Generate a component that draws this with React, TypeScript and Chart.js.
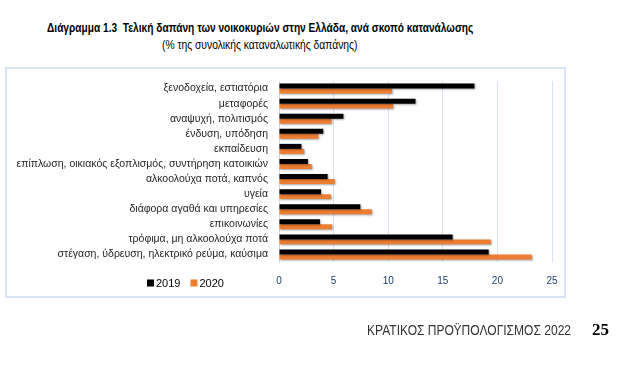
import React, { useEffect, useLayoutEffect, useRef } from "react";
import { Chart, registerables } from "chart.js";

Chart.register(...registerables);

const categories = [
  "ξενοδοχεία, εστιατόρια",
  "μεταφορές",
  "αναψυχή, πολιτισμός",
  "ένδυση, υπόδηση",
  "εκπαίδευση",
  "επίπλωση, οικιακός εξοπλισμός, συντήρηση κατοικιών",
  "αλκοολούχα ποτά, καπνός",
  "υγεία",
  "διάφορα αγαθά και υπηρεσίες",
  "επικοινωνίες",
  "τρόφιμα, μη αλκοολούχα ποτά",
  "στέγαση, ύδρευση, ηλεκτρικό ρεύμα, καύσιμα",
];

const values2019 = [17.9, 12.5, 5.9, 4.05, 2.05, 2.65, 4.45, 3.85, 7.45, 3.75, 15.9, 19.2];
const values2020 = [10.35, 10.45, 4.8, 3.6, 2.3, 3.0, 5.1, 4.75, 8.5, 4.85, 19.4, 23.15];

const seriesLabels = ["2019", "2020"];
const seriesColors = ["#000000", "#ED7D31"];

const xMin = 0;
const xMax = 25;
const xStep = 5;

const titleText = "Διάγραμμα 1.3  Τελική δαπάνη των νοικοκυριών στην Ελλάδα, ανά σκοπό κατανάλωσης";
const subtitleText = "(% της συνολικής καταναλωτικής δαπάνης)";
const footerText = "ΚΡΑΤΙΚΟΣ ΠΡΟΫΠΟΛΟΓΙΣΜΟΣ 2022";
const pageNumber = "25";

const shadowPlugin = {
  id: "barShadow",
  beforeDatasetsDraw(chart: any) {
    const ctx = chart.ctx;
    ctx.save();
    ctx.shadowColor = "rgba(0,0,0,0.35)";
    ctx.shadowBlur = 2;
    ctx.shadowOffsetX = 1;
    ctx.shadowOffsetY = 1;
  },
  afterDatasetsDraw(chart: any) {
    chart.ctx.restore();
  },
};

const legendPlugin = {
  id: "customLegend",
  afterDraw(chart: any) {
    const ctx = chart.ctx;
    ctx.save();
    ctx.font = "11px 'Liberation Sans', Arial, sans-serif";
    ctx.textBaseline = "middle";
    ctx.textAlign = "left";
    let x = 147;
    const y = 283;
    chart.data.datasets.forEach((ds: any, i: number) => {
      ctx.fillStyle = seriesColors[i];
      ctx.fillRect(x, y - 3.5, 7, 7);
      ctx.fillStyle = "#000";
      ctx.fillText(ds.label, x + 9, y + 0.5);
      x += 9 + ctx.measureText(ds.label).width + 10;
    });
    ctx.restore();
  },
};

function FitText(props: {
  text: string;
  left: number;
  top: number;
  width: number;
  style: React.CSSProperties;
}) {
  const ref = useRef<HTMLSpanElement | null>(null);
  useLayoutEffect(() => {
    const el = ref.current;
    if (!el) return;
    el.style.transform = "none";
    const w = el.offsetWidth;
    if (w > 0) el.style.transform = `scaleX(${props.width / w})`;
  }, [props.text, props.width]);
  return (
    <span
      ref={ref}
      style={{
        position: "absolute",
        left: props.left,
        top: props.top,
        display: "inline-block",
        whiteSpace: "pre",
        transformOrigin: "0 0",
        ...props.style,
      }}
    >
      {props.text}
    </span>
  );
}

function App() {
  const canvasRef = useRef<HTMLCanvasElement | null>(null);

  useEffect(() => {
    document.body.style.margin = "0";
    const canvas = canvasRef.current;
    if (!canvas) return;
    const chart = new Chart(canvas, {
      type: "bar",
      data: {
        labels: categories,
        datasets: [
          {
            label: seriesLabels[0],
            data: values2019,
            backgroundColor: seriesColors[0],
            categoryPercentage: 0.66,
            barPercentage: 1,
          },
          {
            label: seriesLabels[1],
            data: values2020,
            backgroundColor: seriesColors[1],
            categoryPercentage: 0.66,
            barPercentage: 1,
          },
        ],
      },
      options: {
        indexAxis: "y",
        animation: false,
        responsive: false,
        maintainAspectRatio: false,
        devicePixelRatio: 1,
        layout: { padding: { left: 0, right: 69, top: 81, bottom: 79 } },
        plugins: {
          legend: { display: false },
          tooltip: { enabled: false },
          title: { display: false },
        },
        scales: {
          x: {
            min: xMin,
            max: xMax,
            ticks: {
              stepSize: xStep,
              padding: 13,
              color: "#1F3B6E",
              font: { family: "'Liberation Sans', Arial, sans-serif", size: 10 },
            },
            grid: { color: "#D9E2F3", lineWidth: 1, drawTicks: false },
            border: { display: false },
            afterFit(scale: any) {
              scale.height = 30;
            },
          },
          y: {
            ticks: {
              padding: 11,
              color: "#262626",
              autoSkip: false,
              font: { family: "'Liberation Sans', Arial, sans-serif", size: 10.5 },
            },
            grid: { display: false, drawTicks: false },
            border: { display: true, color: "#D9D9D9", width: 1 },
            afterFit(scale: any) {
              scale.width = 279;
            },
          },
        },
      },
      plugins: [shadowPlugin, legendPlugin],
    });
    return () => chart.destroy();
  }, []);

  const sans = "'Liberation Sans', Arial, sans-serif";

  return (
    <div style={{ position: "relative", width: 621, height: 371, background: "#fff", overflow: "hidden" }}>
      <FitText
        text={titleText}
        left={47}
        top={21}
        width={426}
        style={{ fontFamily: sans, fontWeight: "bold", fontSize: 12.5, color: "#000", lineHeight: "15px" }}
      />
      <FitText
        text={subtitleText}
        left={162}
        top={38}
        width={195}
        style={{ fontFamily: sans, fontSize: 12.5, color: "#000", lineHeight: "15px" }}
      />
      <div
        style={{
          position: "absolute",
          left: 5,
          top: 67,
          width: 561,
          height: 231,
          boxSizing: "border-box",
          border: "2px solid #DAE3F3",
        }}
      />
      <canvas ref={canvasRef} width={621} height={371} style={{ position: "absolute", left: 0, top: 0, width: 621, height: 371 }} />
      <FitText
        text={footerText}
        left={367}
        top={321}
        width={204}
        style={{ fontFamily: sans, fontSize: 15, color: "#333", lineHeight: "18px" }}
      />
      <FitText
        text={pageNumber}
        left={592}
        top={320}
        width={17}
        style={{ fontFamily: "'Liberation Serif', 'Times New Roman', serif", fontWeight: "bold", fontSize: 17, color: "#000", lineHeight: "20px" }}
      />
    </div>
  );
}

export default App;
